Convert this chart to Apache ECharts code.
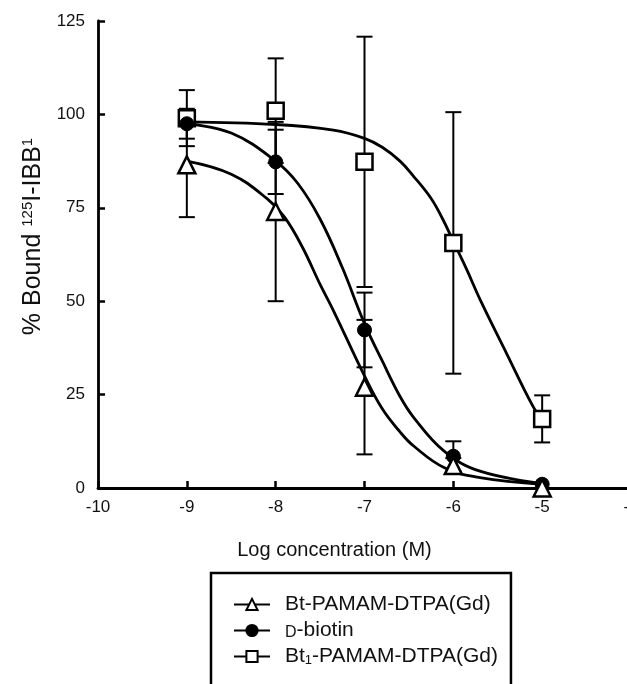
<!DOCTYPE html>
<html>
<head>
<meta charset="utf-8">
<style>
  html, body { margin: 0; padding: 0; background: #fff; }
  #chart { width: 627px; height: 684px; }
</style>
<script src="https://cdn.jsdelivr.net/npm/echarts@6.0.0/dist/echarts.min.js"></script>
</head>
<body>
<div id="chart"></div>
<script>
// measured points (mean and +/- error)
const logConc = [-9, -8, -7, -6, -5];
const btPamam = [86.5, 74, 27, 6, 0];
const btPamamErr = [14, 24, 18, 2, 0];
const biotin = [97.5, 87.3, 42.3, 8.5, 1];
const biotinErr = [4, 8.6, 10, 4, 0];
const bt1Pamam = [99, 101, 87.3, 65.6, 18.5];
const bt1PamamErr = [7.5, 14, 33.5, 35, 6.3];

// fitted curves
const btPamamFitX = [-9, -8.5, -8.1, -7.9, -7.7, -7.5, -7.35, -7.0, -6.8, -6.6, -6.45, -6.1, -5.7, -5.0];
const btPamamFitY = [87.5, 84, 77.5, 72.5, 64.5, 54.5, 47.5, 30, 21.2, 15, 11.3, 5.4, 2.8, 1.0];
const biotinFitX = [-9, -8.5, -8, -7.75, -7.5, -7.25, -7.0, -6.8, -6.6, -6.45, -6.1, -5.7, -5.0];
const biotinFitY = [97.5, 95, 87.5, 81.5, 72, 59, 44, 34, 24.5, 19, 9.8, 4.5, 1.2];
const bt1PamamFitX = [-9, -8, -7.35, -7.0, -6.8, -6.6, -6.45, -6.25, -6.12, -6.0, -5.85, -5.7, -5.4, -5.1, -5.0];
const bt1PamamFitY = [98, 97.3, 95.8, 93.6, 91.2, 87.5, 83.5, 77.5, 72, 66, 58.5, 50.5, 36, 21.7, 18.5];

const xTicks = [-10, -9, -8, -7, -6, -5, -4];
const yTicks = [0, 25, 50, 75, 100, 125];

const names = ['Bt-PAMAM-DTPA(Gd)', 'D-biotin', 'Bt1-PAMAM-DTPA(Gd)'];
const font = 'Liberation Sans, Arial, sans-serif';

const zip = (xs, ys) => xs.map((x, i) => [x, ys[i]]);
const withErr = (ys, es) => logConc.map((x, i) => [x, ys[i], es[i]]);

const openStyle = { color: '#fff', borderColor: '#000', borderWidth: 2.5, opacity: 1 };
const fillStyle = { color: '#000', borderColor: '#000', borderWidth: 1, opacity: 1 };
const markers = [
  { symbol: 'triangle', size: 17, style: openStyle },
  { symbol: 'circle', size: 14, style: fillStyle },
  { symbol: 'rect', size: 16, style: openStyle }
];

function errorBars(params, api) {
  const x = api.value(0), y = api.value(1), e = api.value(2);
  if (!e) return;
  const hi = api.coord([x, y + e]);
  const lo = api.coord([x, y - e]);
  const w = 8;
  const st = { stroke: '#000', lineWidth: 2 };
  return {
    type: 'group',
    children: [
      { type: 'line', shape: { x1: hi[0], y1: hi[1], x2: lo[0], y2: lo[1] }, style: st },
      { type: 'line', shape: { x1: hi[0] - w, y1: hi[1], x2: hi[0] + w, y2: hi[1] }, style: st },
      { type: 'line', shape: { x1: lo[0] - w, y1: lo[1], x2: lo[0] + w, y2: lo[1] }, style: st }
    ]
  };
}

const fits = [zip(btPamamFitX, btPamamFitY), zip(biotinFitX, biotinFitY), zip(bt1PamamFitX, bt1PamamFitY)];
const points = [withErr(btPamam, btPamamErr), withErr(biotin, biotinErr), withErr(bt1Pamam, bt1PamamErr)];

const series = [];
// curves first so the legend takes its icon from them
names.forEach((n, i) => {
  series.push({
    name: n, type: 'line', data: fits[i], smooth: 0.4,
    symbol: markers[i].symbol, symbolSize: markers[i].size - 2, showSymbol: false,
    itemStyle: markers[i].style,
    lineStyle: { color: '#000', width: 2.8 },
    z: 2, silent: true
  });
});
names.forEach((n, i) => {
  series.push({
    name: n, type: 'custom', data: points[i], renderItem: errorBars,
    encode: { x: 0, y: 1 }, z: 3, silent: true
  });
});
// squares under circles under triangles
[2, 1, 0].forEach((i, k) => {
  series.push({
    name: names[i], type: 'scatter', data: points[i].map(p => [p[0], p[1]]),
    symbol: markers[i].symbol, symbolSize: markers[i].size,
    itemStyle: markers[i].style, z: 4 + k, silent: true
  });
});

const chart = echarts.init(document.getElementById('chart'), null, { renderer: 'canvas' });
chart.setOption({
  backgroundColor: '#fff',
  animation: false,
  textStyle: { fontFamily: font, color: '#111' },
  grid: { left: 98, top: 21, right: -4, bottom: 196, containLabel: false, outerBoundsMode: 'none' },
  xAxis: {
    type: 'value', min: -10, max: -4, interval: 1,
    name: 'Log concentration (M)', nameLocation: 'middle', nameGap: 52,
    nameTextStyle: { fontSize: 20, color: '#111', fontFamily: font, padding: [0, 60, 0, 0] },
    axisLine: { onZero: false, lineStyle: { color: '#000', width: 2.8 } },
    axisTick: { inside: true, length: 7, lineStyle: { color: '#000', width: 2.5 }, customValues: xTicks },
    axisLabel: { fontSize: 17, color: '#111', margin: 11, fontFamily: font, customValues: xTicks },
    splitLine: { show: false }
  },
  yAxis: {
    type: 'value', min: 0, max: 125, interval: 25,
    name: '{t|% Bound }{sup|125}{t|I-IBB}{sup|1}',
    nameLocation: 'middle', nameGap: 52, nameRotate: 90,
    nameTextStyle: {
      padding: [0, 0, 0, 36],
      rich: {
        t: { fontSize: 25, color: '#111', fontFamily: font },
        sup: { fontSize: 15, color: '#111', fontFamily: font, verticalAlign: 'top' }
      }
    },
    axisLine: { lineStyle: { color: '#000', width: 2.8 } },
    axisTick: { inside: true, length: 7, lineStyle: { color: '#000', width: 2.5 }, customValues: yTicks },
    axisLabel: { fontSize: 17, color: '#111', margin: 13, fontFamily: font, customValues: yTicks },
    splitLine: { show: false }
  },
  legend: {
    data: names,
    orient: 'vertical',
    left: 211, top: 573, height: 160,
    padding: [21, 13, 24, 22],
    itemGap: 5,
    itemWidth: 36, itemHeight: 14,
    borderColor: '#000', borderWidth: 2.5,
    selectedMode: false,
    formatter: function (name) {
      if (name === 'D-biotin') return '{sc|D}{t|-biotin}';
      if (name === 'Bt1-PAMAM-DTPA(Gd)') return '{t|Bt}{sub|1}{t|-PAMAM-DTPA(Gd)}';
      return '{t|' + name + '}';
    },
    textStyle: {
      padding: [0, 0, 0, 10],
      rich: {
        t: { fontSize: 21, lineHeight: 21, color: '#111', fontFamily: font },
        sc: { fontSize: 16, lineHeight: 21, color: '#111', fontFamily: font, verticalAlign: 'bottom' },
        sub: { fontSize: 13, lineHeight: 21, color: '#111', fontFamily: font, verticalAlign: 'bottom' }
      }
    }
  },
  series: series
});
</script>
</body>
</html>
